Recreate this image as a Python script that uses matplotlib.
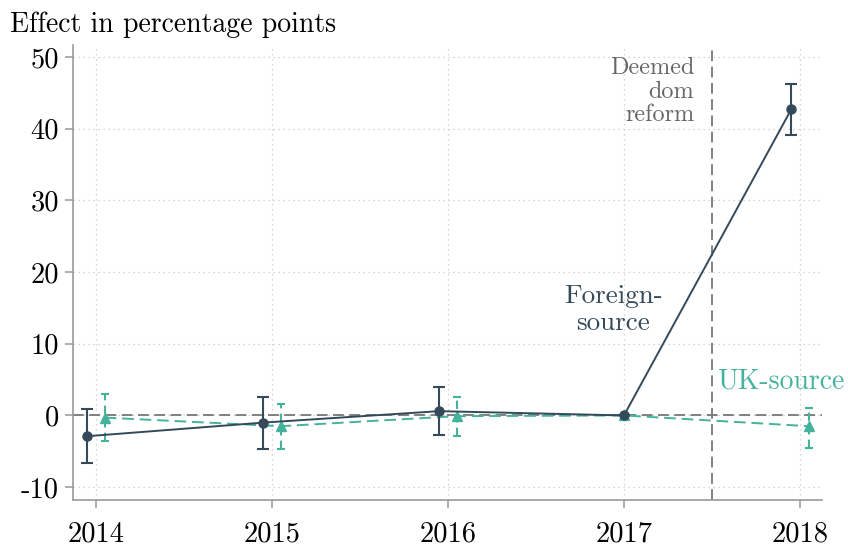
import matplotlib as mpl
import matplotlib.pyplot as plt
import numpy as np

mpl.use("Agg")
plt.rcParams["font.family"] = "serif"
plt.rcParams["font.serif"] = ["cmr10", "DejaVu Serif"]
plt.rcParams["mathtext.fontset"] = "cm"
plt.rcParams["axes.formatter.use_mathtext"] = True

years = np.array([2014, 2015, 2016, 2017, 2018])
foreign = np.array([-2.9, -1.0, 0.6, 0.0, 42.7])
foreign_lo = np.array([-6.7, -4.7, -2.7, 0.0, 39.1])
foreign_hi = np.array([0.9, 2.6, 4.0, 0.0, 46.2])
uk = np.array([-0.3, -1.5, -0.1, 0.0, -1.5])
uk_lo = np.array([-3.6, -4.7, -2.9, 0.0, -4.5])
uk_hi = np.array([3.0, 1.6, 2.6, 0.0, 1.1])
yticks = [-10, 0, 10, 20, 30, 40, 50]
ytick_labels = ["-10", "0", "10", "20", "30", "40", "50"]

DARK = "#34495a"
TEAL = "#45b39c"
GRAY = "#777777"

# small horizontal shift so the two series don't overlap (not for base year)
shift = np.where(years == 2017, 0.0, 0.05)

fig = plt.figure(figsize=(8.48, 5.47), dpi=100)
ax = fig.add_axes([73 / 848, 1 - 500 / 547, (822 - 73) / 848, (500 - 45) / 547])

ax.axhline(0, color=GRAY, linestyle=(0, (6, 3)), linewidth=1.3, zorder=1)
ax.axvline(2017.5, color=GRAY, linestyle=(0, (6, 3)), linewidth=1.3, zorder=1)

x_f = years - shift
x_u = years + shift
ax.errorbar(x_f, foreign, yerr=[foreign - foreign_lo, foreign_hi - foreign],
            color=DARK, marker="o", markersize=6.5, linewidth=1.4,
            elinewidth=1.5, capsize=4, capthick=1.5, zorder=4)
eb = ax.errorbar(x_u, uk, yerr=[uk - uk_lo, uk_hi - uk],
                 color=TEAL, marker="^", markersize=6.5, linewidth=1.4,
                 linestyle=(0, (6, 3)), elinewidth=1.5, capsize=3,
                 capthick=1.5, zorder=3)
for lc in eb[2]:
    lc.set_linestyle((0, (4, 2.5)))

ax.set_xlim(2013.87, 2018.125)
ax.set_ylim(-11.8, 51.7)
ax.set_xticks(years)
ax.set_xticklabels([str(y) for y in years], fontsize=20.5)
ax.set_yticks(yticks)
ax.set_yticklabels(ytick_labels, fontsize=20.5)
ax.grid(True, linestyle=(0, (1, 3)), color="#c8c8c8", linewidth=0.9)
ax.set_axisbelow(True)

for side in ["top", "right"]:
    ax.spines[side].set_visible(False)
for side in ["left", "bottom"]:
    ax.spines[side].set_color("#999999")
    ax.spines[side].set_linewidth(1.2)
ax.tick_params(color="#999999", length=6, width=1.1, pad=4)
ax.tick_params(axis="x", pad=9)

ax.text(2017.40, 50.0, "Deemed\ndom\nreform", ha="right", va="top",
        fontsize=17.5, color="#666666", linespacing=1.08)
ax.text(2016.94, 14.8, "Foreign-\nsource", ha="center", va="center",
        fontsize=19.5, color=DARK, linespacing=1.2)
ax.text(2017.53, 4.75, "UK-source", ha="left", va="center",
        fontsize=20, color=TEAL)
fig.text(10 / 848, 1 - 25 / 547, "Effect in percentage points", ha="left",
         va="center", fontsize=20)

fig.savefig("out.png", dpi=100)
